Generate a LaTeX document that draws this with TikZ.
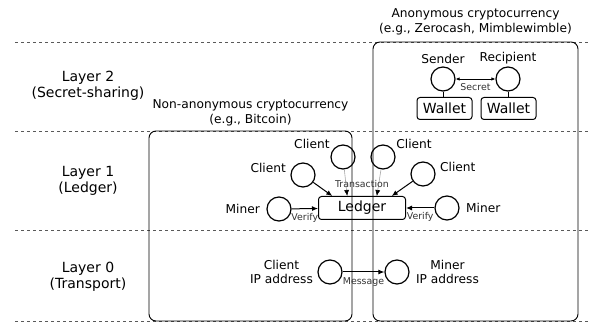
\documentclass[tikz,border=0pt]{standalone}
\usepackage{fontspec}
\setmainfont{DejaVu Sans}
\usetikzlibrary{positioning,arrows.meta}
\newcommand{\layerfont}{\fontsize{14}{16.5}\selectfont}
\newcommand{\labelfont}{\fontsize{12.2}{14.5}\selectfont}
\newcommand{\smallfont}{\fontsize{9.4}{11}\selectfont}
\newcommand{\definitions}{%
  % color of the layer boundaries
  \colorlet{colLayer}{black!65}
  % color of the transaction lines
  \colorlet{colTx}{black!35}
}
\tikzset{
  layerline/.style={dashed, colLayer, line width=0.9pt},
  cryptobox/.style={draw, rounded corners=7pt, line width=0.9pt, inner sep=0pt},
  party/.style={circle, draw, line width=1.2pt, minimum size=24pt, inner sep=0pt},
  block/.style={draw, rounded corners=3pt, line width=1pt, font=\layerfont, inner sep=0pt},
  tag/.style={font=\smallfont, text=black!80, inner sep=1pt},
  flow/.style={-{Latex[length=6pt,width=5pt]}, line width=1pt},
}

\begin{document}
\begin{tikzpicture}[x=1pt, y=-1pt, font=\labelfont]

  % define colors
  \definitions
  \useasboundingbox (0,0) rectangle (590,326);

  % layer boundaries
  \foreach \y in {42,131,230,321}
    \draw[layerline] (15,\y) -- (590,\y);

  % layer names
  \node[font=\layerfont, align=center] (L2) at (88,86) {Layer 2\\(Secret-sharing)};
  \node[font=\layerfont, align=center] (L1) at (88,181) {Layer 1\\(Ledger)};
  \node[font=\layerfont, align=center] (L0) at (88,277) {Layer 0\\(Transport)};

  % cryptocurrency boxes
  \node[cryptobox, minimum width=203pt, minimum height=190pt] (nonanon) at (250.5,226) {};
  \node[cryptobox, minimum width=205pt, minimum height=279pt] (anon) at (475.5,181.5) {};
  \node[align=center] [above=1pt of nonanon] {Non-anonymous cryptocurrency\\(e.g., Bitcoin)};
  \node[align=center] [above=3pt of anon] {Anonymous cryptocurrency\\(e.g., Zerocash, Mimblewimble)};

  % layer 2: secret sharing
  \node[party] (sender) at (443,79) {};
  \node[party] (recipient) at (508,79) {};
  \node[above=-1pt of sender] {Sender};
  \node[above=-1pt of recipient] {Recipient};
  \node[block, minimum width=55pt, minimum height=22pt] (wallet1) at (444.5,108.5) {Wallet};
  \node[block, minimum width=55pt, minimum height=22pt] (wallet2) at (508.5,108.5) {Wallet};
  \draw[line width=1pt] (sender) -- (sender |- wallet1.north);
  \draw[line width=1pt] (recipient) -- (recipient |- wallet2.north);
  \draw[{Latex[length=4pt,width=3.5pt]}-{Latex[length=4pt,width=3.5pt]}, line width=0.8pt]
    (sender) -- node[tag, below=3pt] {Secret} (recipient);

  % layer 1: ledger
  \node[block, minimum width=87pt, minimum height=23pt] (ledger) at (362,208) {Ledger};
  \node[party] (client1) at (303,175) {};
  \node[party] (client2) at (343,157) {};
  \node[party] (client3) at (383,157) {};
  \node[party] (client4) at (423,174) {};
  \node[party] (miner1) at (279,209) {};
  \node[party] (miner2) at (447,208) {};
  \node[left=1pt of client1, yshift=7pt] {Client};
  \node[above left=-4pt and 1pt of client2] {Client};
  \node[above right=-4pt and 1pt of client3] {Client};
  \node[right=1pt of client4, yshift=7pt] {Client};
  \node[left=3pt of miner1] {Miner};
  \node[right=3pt of miner2] {Miner};
  \draw[flow] (client1) -- (ledger.158);
  \draw[flow] (client4) -- (ledger.22);
  \draw[flow, colTx, line width=0.6pt, -{Latex[black,length=6pt,width=5pt]}] (client2) -- (ledger.141);
  \draw[flow, colTx, line width=0.6pt, -{Latex[black,length=6pt,width=5pt]}] (client3) -- (ledger.39);
  \node[tag, above=7pt of ledger] (tx) {Transaction};
  \draw[flow] (miner1) -- node[tag, below=3pt] {Verify} (ledger);
  \draw[flow] (miner2) -- node[tag, below=3pt] {Verify} (ledger);

  % layer 0: transport
  \node[party] (clientip) at (330,272) {};
  \node[party] (minerip) at (397,272) {};
  \node[align=center, left=1pt of clientip] {Client\\IP address};
  \node[align=center, right=3pt of minerip] {Miner\\IP address};
  \draw[flow] (clientip) -- node[tag, below=4pt] {Message} (minerip);

\end{tikzpicture}
\end{document}
